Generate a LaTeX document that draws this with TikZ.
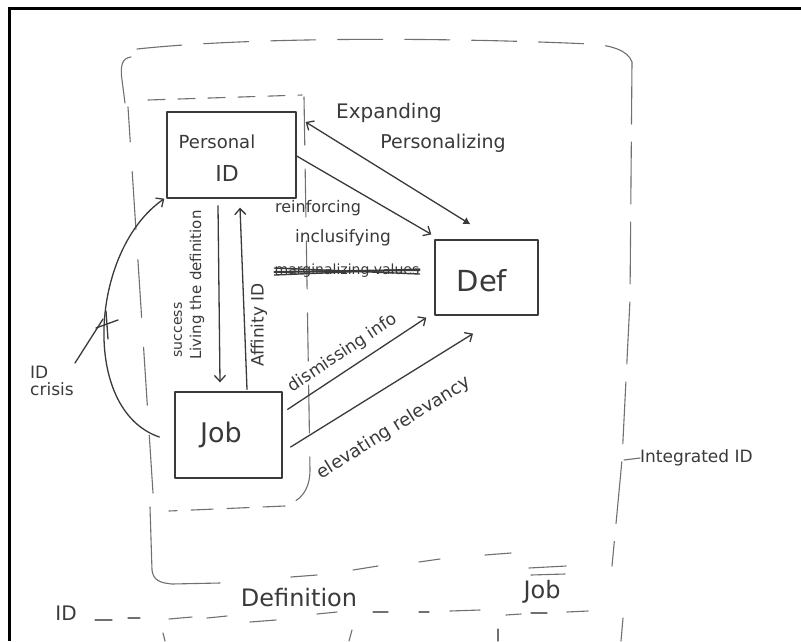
\documentclass[tikz,border=0pt]{standalone}
\usepackage{fontspec}
\setmainfont{DejaVu Sans}
\usetikzlibrary{arrows.meta}
\definecolor{ink}{HTML}{3A3A3A}
\definecolor{faint}{HTML}{707070}
\newcommand\hsz[1]{\fontsize{#1}{#1}\selectfont}
\begin{document}
\begin{tikzpicture}[x=1pt,y=-1pt,
  pencil/.style={draw=ink, line width=1.3pt, line cap=round, line join=round},
  box/.style={pencil, rectangle, inner sep=0pt},
  arr/.style={pencil, -{Straight Barb[length=6pt,width=11pt,line width=1.3pt]}},
  soft/.style={draw=faint, line width=1.1pt, line cap=round},
  longdash/.style={soft, dash pattern=on 62pt off 18pt},
  shortdash/.style={soft, dash pattern=on 17pt off 13pt},
  hand/.style={text=ink, inner sep=0pt},
]
\useasboundingbox (0,0) rectangle (801,641);
\fill[white] (0,0) rectangle (801,641);

% scan frame
\draw[line width=3pt, black] (9.5,641) -- (9.5,8.5) -- (801,8.5);

% ---------- outer region ----------
\draw[soft, dash pattern=on 45pt off 22pt] (137,49) .. controls (260,36) and (460,38) .. (590,44)
      .. controls (610,45) and (628,50) .. (632,62);
\draw[longdash] (632,62) -- (630,300) -- (622,460) -- (612,566);
\draw[soft] (623,618) -- (621,641);
\draw[soft] (131,57) .. controls (122,58) and (120,66) .. (122,80) -- (125,103);
\coordinate (lead) at (624,460);
\node[hand, anchor=west, font=\hsz{17}] (intid) at (640,458) {Integrated ID};
\draw[soft] (lead) -- (intid.west);

% ---------- inner region ----------
\draw[shortdash] (148,100) -- (302,95);
\draw[soft, dash pattern=on 48pt off 24pt] (304,97) -- (310,470) .. controls (310,490) and (300,502) .. (285,505);
\draw[soft, dash pattern=on 22pt off 14pt] (285,506) -- (169,511);
\draw[soft, dash pattern=on 58pt off 30pt] (153,493) -- (128,107);

% ---------- bottom bracket ----------
\draw[soft] (150,507) -- (152,570) .. controls (153,580) and (160,583) .. (172,584) -- (220,583);
\draw[soft] (291,577) -- (317,575);
\draw[soft] (353,570) -- (378,566);
\draw[soft] (419,562) -- (440,559);
\draw[soft] (485,555) -- (511,553);
\draw[soft] (529,568) -- (566,566);
\draw[soft] (531,575) -- (565,574);

% ---------- boxes ----------
\node[box, minimum width=129pt, minimum height=86pt] (pid) at (231.5,155) {};
\node[hand, font=\hsz{18}] (pname) at (217,142) {Personal};
\node[hand, font=\hsz{22}] (pidl) at (227,173) {ID};

\node[box, minimum width=107pt, minimum height=86pt] (job) at (228.5,435) {};
\node[hand, font=\hsz{27}] (jobl) at (221,435) {Job};

\node[box, minimum width=103pt, minimum height=75pt] (def) at (486.5,277.5) {};
\node[hand, font=\hsz{29}] (defl) at (482,281) {Def};

% ---------- connectors ----------
\draw[pencil, {Straight Barb[length=6pt,width=11pt,line width=1.3pt]}-{Latex[length=7pt,width=8pt]}]
  ([xshift=9pt,yshift=33pt]pid.east) -- ([xshift=-16pt,yshift=15pt]def.north);
\draw[arr] ([yshift=-1pt]pid.east) -- ([xshift=-3pt,yshift=5pt]def.north west);
\draw[arr] ([xshift=-13.5pt,yshift=-7pt]pid.south) -- ([xshift=-8.5pt,yshift=9pt]job.north);
\draw[arr] ([xshift=18.5pt,yshift=2pt]job.north) -- ([xshift=8.5pt,yshift=-9pt]pid.south);
\draw[arr] ([xshift=5pt,yshift=-18pt]job.north east) -- ([xshift=-8pt,yshift=-2pt]def.south west);
\draw[arr] ([xshift=8pt,yshift=-12pt]job.east) -- ([xshift=-13.5pt,yshift=-18pt]def.south);

% identity crisis loop
\draw[arr] ([xshift=-15pt,yshift=-2pt]job.west) .. controls (80,410) and (90,250) .. ([xshift=-2pt]pid.south west);
\coordinate (cross) at (107,325);
\draw[pencil] (106,311) -- (108,339);
\draw[pencil] (96,328) -- (118,320);
\node[hand, font=\hsz{17}, align=left, anchor=north west] (crisis) at (30,366) {ID\\crisis};
\draw[pencil] (75,363) -- ([xshift=-4pt,yshift=6pt]cross);

% ---------- labels ----------
\node[hand, font=\hsz{20}] (expand) at (389,113) {Expanding};
\node[hand, font=\hsz{19}] (person) at (443,143) {Personalizing};
\node[hand, font=\hsz{16}] (reinf) at (318,208) {reinforcing};
\node[hand, font=\hsz{17}] (inclu) at (343,238) {inclusifying};
\node[hand, font=\hsz{14}] (struck) at (347,271) {marginalizing values};
\draw[pencil, line width=2pt] ([yshift=-1pt]struck.west) -- ([yshift=1pt]struck.east);
\draw[pencil, line width=1.4pt] ([yshift=3pt]struck.west) -- ([yshift=-3pt]struck.east);
\draw[pencil, line width=1.4pt] ([yshift=-4pt]struck.west) -- ([yshift=2pt]struck.east);

\node[hand, font=\hsz{14}, rotate=90] (succ) at (178,330) {success};
\node[hand, font=\hsz{15}, rotate=90] (living) at (197,285) {Living the definition};
\node[hand, font=\hsz{17}, rotate=90] (affin) at (259,325) {Affinity ID};

\node[hand, font=\hsz{17}, rotate=33.6] (dism) at (343,353) {dismissing info};
\node[hand, font=\hsz{18}, rotate=32] (elev) at (394,428) {elevating relevancy};

% ---------- lower strip ----------
\node[hand, font=\hsz{20}] (lowid) at (66,613) {ID};
\node[hand, font=\hsz{24}] (lowdef) at (299,598) {Definition};
\node[hand, font=\hsz{24}] (lowjob) at (542,592) {Job};
\foreach \a/\b/\c/\d in {95/620/112/620, 128/618/140/618, 169/619/192/617, 207/618/227/616,
  250/622/276/620, 317/614/337/612, 373/612/388/612, 419/612/429/612, 450/611/480/610,
  506/615/521/614, 531/613/547/613, 567/612/588/611}
  \draw[soft] (\a,\b) -- (\c,\d);
\draw[soft] (163,633) -- (165,641);
\draw[soft] (352,630) -- (349,641);
\draw[soft] (498,629) -- (498,641);
\end{tikzpicture}
\end{document}
